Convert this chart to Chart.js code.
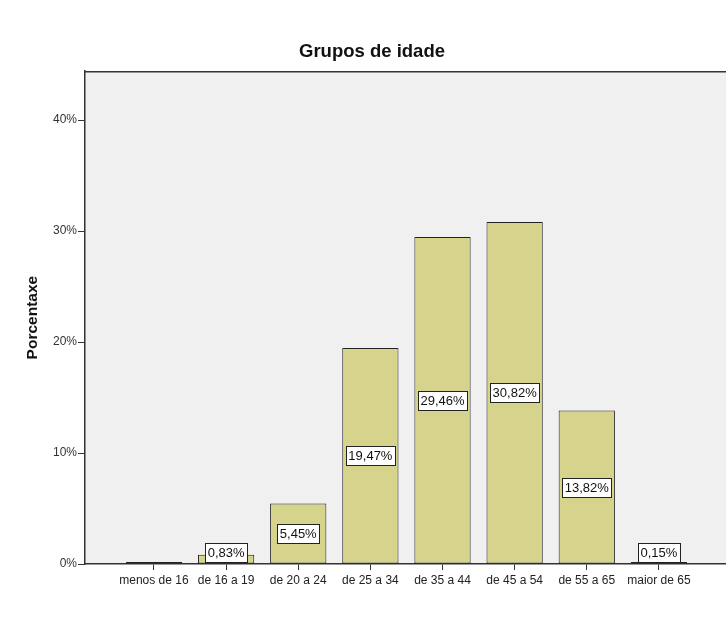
<!DOCTYPE html>
<html>
<head>
<meta charset="utf-8">
<script src="https://cdn.jsdelivr.net/npm/chart.js@4/dist/chart.umd.min.js"></script>
<style>
  html, body { margin: 0; padding: 0; background: #fff; }
  #grafico { display: block; }
</style>
</head>
<body>
<canvas id="grafico" width="726" height="623"></canvas>
<script>
const grupos = ['menos de 16', 'de 16 a 19', 'de 20 a 24', 'de 25 a 34', 'de 35 a 44', 'de 45 a 54', 'de 55 a 65', 'maior de 65'];
const porcentaxes = [0, 0.83, 5.45, 19.47, 29.46, 30.82, 13.82, 0.15];
const ticksY = [0, 10, 20, 30, 40];

const fonte = '"Liberation Sans", Arial, sans-serif';

// fondo gris da zona do gráfico e liña superior
const fondoPlugin = {
    id: 'fondo',
    beforeDraw(chart) {
        const { ctx, chartArea: a } = chart;
        ctx.save();
        ctx.fillStyle = '#f0f0f0';
        ctx.fillRect(a.left, a.top, a.right - a.left, a.bottom - a.top);
        ctx.restore();
    },
    afterDraw(chart) {
        const { ctx, chartArea: a } = chart;
        ctx.save();
        ctx.strokeStyle = '#333';
        ctx.lineWidth = 1.5;
        ctx.beginPath();
        ctx.moveTo(a.left, a.top + 0.5);
        ctx.lineTo(a.right, a.top + 0.5);
        ctx.stroke();
        ctx.restore();
    }
};

// etiquetas de valor en caixas brancas
const etiquetasPlugin = {
    id: 'etiquetas',
    afterDatasetsDraw(chart) {
        const { ctx } = chart;
        const meta = chart.getDatasetMeta(0);
        ctx.save();
        ctx.font = '13px ' + fonte;
        ctx.textAlign = 'center';
        ctx.textBaseline = 'middle';
        meta.data.forEach((bar, i) => {
            const v = porcentaxes[i];
            if (!v) return;
            const texto = v.toFixed(2).replace('.', ',') + '%';
            const w = Math.round(ctx.measureText(texto).width + 5);
            const h = 19;
            const y = Math.min((bar.y + bar.base) / 2, bar.base - 11);
            const x = bar.x;
            const bx = Math.round(x - w / 2) + 0.5;
            const by = Math.round(y - h / 2) + 0.5;
            ctx.fillStyle = '#fff';
            ctx.fillRect(bx, by, w, h);
            ctx.strokeStyle = '#222';
            ctx.lineWidth = 1;
            ctx.strokeRect(bx, by, w, h);
            ctx.fillStyle = '#111';
            ctx.fillText(texto, x, y + 1);
        });
        ctx.restore();
    }
};

new Chart(document.querySelector('#grafico'), {
    type: 'bar',
    data: {
        datasets: [{
            label: 'Porcentaxe',
            data: porcentaxes.map((v, i) => ({ x: i, y: v })),
            backgroundColor: '#d6d38d',
            borderColor: '#222',
            borderWidth: 1,
            borderSkipped: false,
            minBarLength: 2,
            barPercentage: 0.78,
            categoryPercentage: 1
        }]
    },
    options: {
        responsive: false,
        animation: false,
        devicePixelRatio: 1,
        layout: { padding: { left: 18, right: 0, top: 0, bottom: 0 } },
        plugins: {
            legend: { display: false },
            tooltip: { enabled: false },
            title: {
                display: true,
                text: 'Grupos de idade',
                color: '#111',
                font: { family: fonte, size: 18.5, weight: 'bold', lineHeight: 1.2 },
                padding: { top: 41, bottom: 8 }
            }
        },
        scales: {
            x: {
                type: 'linear',
                offset: false,
                min: -0.956,
                max: 7.93,
                afterBuildTicks: s => { s.ticks = grupos.map((g, i) => ({ value: i })); },
                afterFit: s => { s.height = 59; },
                ticks: {
                    callback: v => grupos[v],
                    color: '#222',
                    font: { family: fonte, size: 12 },
                    padding: 3,
                    maxRotation: 0,
                    autoSkip: false
                },
                grid: { offset: false, drawOnChartArea: false, tickLength: 6, tickColor: '#333' },
                border: { color: '#333', width: 1.5 }
            },
            y: {
                min: 0,
                max: 44.4,
                afterBuildTicks: s => { s.ticks = ticksY.map(v => ({ value: v })); },
                afterFit: s => { s.width = 67; },
                ticks: {
                    callback: v => v + '%',
                    color: '#333',
                    font: { family: fonte, size: 12 },
                    padding: 1
                },
                grid: { drawOnChartArea: false, tickLength: 7, tickColor: '#333' },
                border: { color: '#333', width: 1.5 },
                title: {
                    display: true,
                    text: 'Porcentaxe',
                    color: '#111',
                    font: { family: fonte, size: 15.5, weight: 'bold' },
                    padding: { top: 5, bottom: 0 }
                }
            }
        }
    },
    plugins: [fondoPlugin, etiquetasPlugin]
});
</script>
</body>
</html>
